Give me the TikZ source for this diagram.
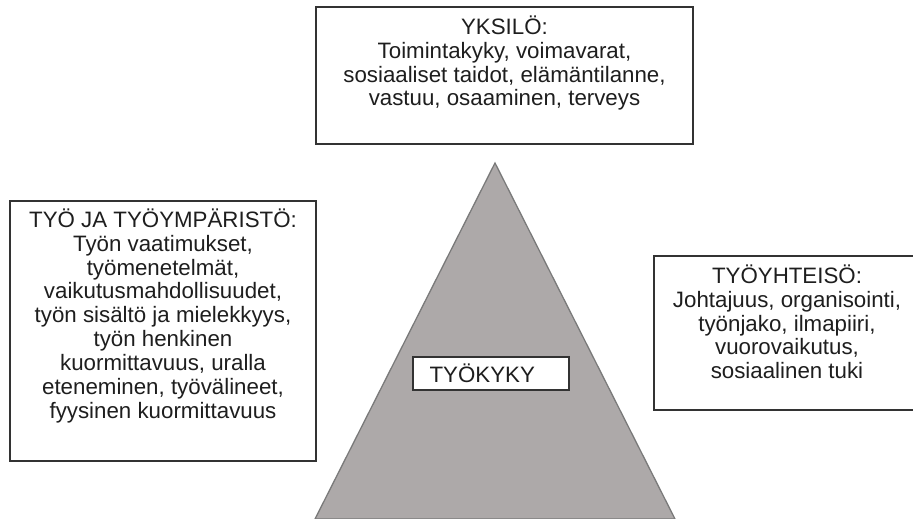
\documentclass[tikz,border=0pt]{standalone}
\usepackage{fontspec}
\setmainfont{Liberation Sans}
\definecolor{trifill}{HTML}{ADA9A9}
\definecolor{triedge}{HTML}{7A7A7A}
\definecolor{boxedge}{HTML}{333333}
\definecolor{txt}{HTML}{1E1E1E}
\begin{document}
\begin{tikzpicture}[x=1pt,y=-1pt,
  boxshape/.style={draw=boxedge,line width=1.3pt,fill=white,inner sep=0pt},
  boxtext/.style={align=center,text=txt,inner sep=0pt,font=\fontsize{22.3}{23.9}\selectfont}]
\useasboundingbox (0,0) rectangle (913,519);
% triangle
\coordinate (apex) at (495,163);
\coordinate (bl) at (315,519);
\coordinate (br) at (675,519);
\path[fill=trifill,draw=triedge,line width=1.3pt] (apex) -- (br) -- (bl) -- cycle;
% boxes
\node[boxshape,minimum width=377pt,minimum height=137pt] (yks) at (504.5,75.5) {};
\node[boxtext,anchor=north] (yksT) at ([yshift=-9pt]yks.north) {YKSILÖ:\\Toimintakyky, voimavarat,\\sosiaaliset taidot, elämäntilanne,\\vastuu, osaaminen, terveys};
\node[boxshape,minimum width=306pt,minimum height=260pt] (tyo) at (163,331) {};
\node[boxtext,anchor=north] (tyoT) at ([yshift=-8pt]tyo.north) {TYÖ JA TYÖYMPÄRISTÖ:\\Työn vaatimukset,\\työmenetelmät,\\vaikutusmahdollisuudet,\\työn sisältö ja mielekkyys,\\työn henkinen\\kuormittavuus, uralla\\eteneminen, työvälineet,\\fyysinen kuormittavuus};
\node[boxshape,minimum width=266pt,minimum height=154pt] (yht) at (787,333) {};
\node[boxtext,anchor=north] (yhtT) at ([yshift=-9pt]yht.north) {TYÖYHTEISÖ:\\Johtajuus, organisointi,\\työnjako, ilmapiiri,\\vuorovaikutus,\\sosiaalinen tuki};
\node[boxshape,minimum width=156pt,minimum height=33pt] (kyky) at (491,373.5) {};
\node[boxtext,anchor=west] (kykyT) at ([xshift=17pt]kyky.west) {TYÖKYKY};
\end{tikzpicture}
\end{document}
